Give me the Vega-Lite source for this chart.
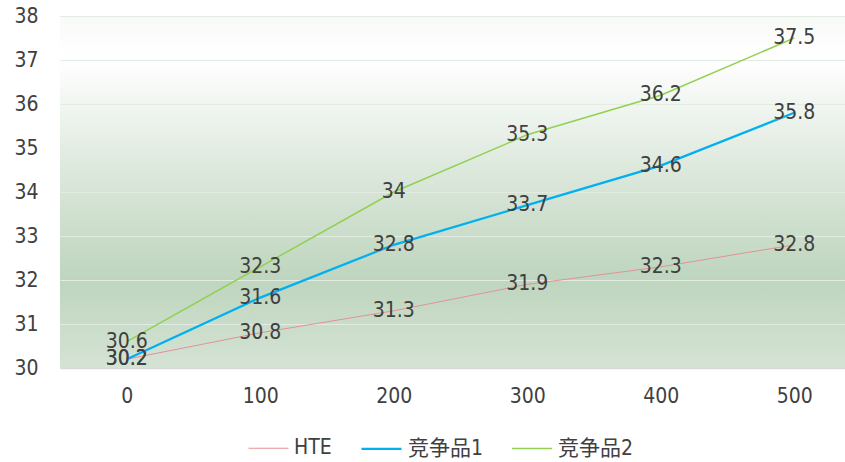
{
  "$schema": "https://vega.github.io/schema/vega-lite/v6.json",
  "width": 785,
  "height": 352,
  "autosize": "none",
  "padding": {"left": 60, "top": 16, "right": 0, "bottom": 94},
  "background": "#ffffff",
  "config": {
    "view": {
      "stroke": null,
      "fill": {
        "gradient": "linear", "x1": 0, "y1": 0, "x2": 0, "y2": 1,
        "stops": [
          {"offset": 0, "color": "#f7faf7"},
          {"offset": 0.12, "color": "#ffffff"},
          {"offset": 0.5, "color": "#d6e4d6"},
          {"offset": 0.75, "color": "#bed5be"},
          {"offset": 1, "color": "#d5e3d5"}
        ]
      }
    },
    "font": "DejaVu Sans Condensed, Roboto, Noto Sans CJK SC, sans-serif",
    "axis": {"labelFont": "DejaVu Sans Condensed, Roboto, sans-serif", "labelFontSize": 21, "labelColor": "#404040", "ticks": false, "title": null}
  },
  "data": {
    "values": [
      {"x": 0, "series": "HTE", "v": 30.2},
      {"x": 100, "series": "HTE", "v": 30.8},
      {"x": 200, "series": "HTE", "v": 31.3},
      {"x": 300, "series": "HTE", "v": 31.9},
      {"x": 400, "series": "HTE", "v": 32.3},
      {"x": 500, "series": "HTE", "v": 32.8},
      {"x": 0, "series": "竞争品1", "v": 30.2},
      {"x": 100, "series": "竞争品1", "v": 31.6},
      {"x": 200, "series": "竞争品1", "v": 32.8},
      {"x": 300, "series": "竞争品1", "v": 33.7},
      {"x": 400, "series": "竞争品1", "v": 34.6},
      {"x": 500, "series": "竞争品1", "v": 35.8},
      {"x": 0, "series": "竞争品2", "v": 30.6},
      {"x": 100, "series": "竞争品2", "v": 32.3},
      {"x": 200, "series": "竞争品2", "v": 34},
      {"x": 300, "series": "竞争品2", "v": 35.3},
      {"x": 400, "series": "竞争品2", "v": 36.2},
      {"x": 500, "series": "竞争品2", "v": 37.5}
    ]
  },
  "layer": [
    {
      "mark": {"type": "line"},
      "encoding": {
        "x": {
          "field": "x", "type": "quantitative",
          "scale": {"domain": [-50, 538], "nice": false, "zero": false},
          "axis": {"values": [0, 100, 200, 300, 400, 500], "grid": false, "domainColor": "#d9d9d9", "domainWidth": 1.5, "labelPadding": 17}
        },
        "y": {
          "field": "v", "type": "quantitative",
          "scale": {"domain": [30, 38], "nice": false, "zero": false},
          "axis": {"values": [30, 31, 32, 33, 34, 35, 36, 37, 38], "domain": false, "grid": true, "gridColor": "#e3ece3", "labelPadding": 22}
        },
        "color": {
          "field": "series", "type": "nominal",
          "scale": {"domain": ["HTE", "竞争品1", "竞争品2"], "range": ["#e39296", "#00b0f0", "#92d050"]},
          "legend": {
            "orient": "none", "legendX": 188, "legendY": 411, "direction": "horizontal", "title": null,
            "symbolType": "stroke", "symbolSize": 1600, "symbolStrokeWidth": 2,
            "labelFontSize": 21, "labelFont": "DejaVu Sans Condensed, Roboto, Noto Sans CJK SC, sans-serif", "labelColor": "#404040",
            "labelOffset": 5, "columnPadding": 25
          }
        },
        "strokeWidth": {
          "field": "series", "type": "ordinal",
          "scale": {"type": "ordinal", "domain": ["HTE", "竞争品1", "竞争品2"], "range": [1, 2.25, 1.5]},
          "legend": null
        }
      }
    },
    {
      "mark": {"type": "text", "fontSize": 21, "color": "#404040", "font": "DejaVu Sans Condensed, Roboto, sans-serif", "baseline": "middle", "align": "center"},
      "encoding": {
        "x": {"field": "x", "type": "quantitative"},
        "y": {"field": "v", "type": "quantitative"},
        "text": {"field": "v", "type": "quantitative"}
      }
    }
  ]
}
